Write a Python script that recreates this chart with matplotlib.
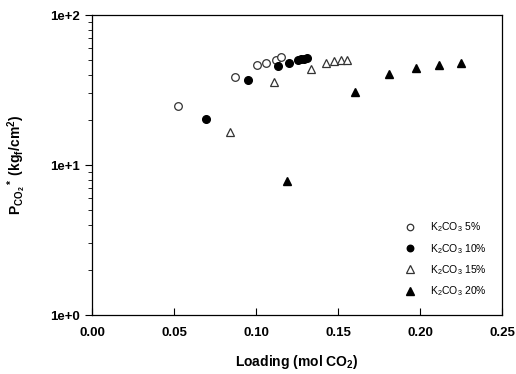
import matplotlib
matplotlib.use("Agg")
import matplotlib.pyplot as plt
from matplotlib.ticker import FixedLocator, LogLocator, NullFormatter

plt.rcParams['font.family'] = ['Liberation Sans', 'DejaVu Sans']
plt.rcParams['mathtext.fontset'] = 'custom'
plt.rcParams['mathtext.rm'] = 'Liberation Sans'
plt.rcParams['mathtext.it'] = 'Liberation Sans:italic'
plt.rcParams['mathtext.bf'] = 'Liberation Sans:bold'

# Data
load_5 = [0.0523, 0.0874, 0.1006, 0.1063, 0.1120, 0.1151]
p_5 = [24.7, 38.4, 46.4, 48.1, 49.9, 52.5]

load_10 = [0.0695, 0.0953, 0.1137, 0.1204, 0.1256, 0.1274, 0.1293, 0.1311]
p_10 = [20.2, 36.9, 45.5, 48.1, 50.5, 50.9, 50.9, 51.3]

load_15 = [0.0843, 0.1110, 0.1334, 0.1427, 0.1476, 0.1516, 0.1556]
p_15 = [16.6, 35.8, 43.5, 47.7, 49.1, 50.1, 50.5]

load_20 = [0.1187, 0.1604, 0.1811, 0.1976, 0.2117, 0.2251]
p_20 = [7.8, 30.7, 40.6, 44.5, 46.2, 47.5]

labels = ['K$_2$CO$_3$ 5%', 'K$_2$CO$_3$ 10%', 'K$_2$CO$_3$ 15%', 'K$_2$CO$_3$ 20%']
x_ticks = [0.00, 0.05, 0.10, 0.15, 0.20, 0.25]
x_ticklabels = ['0.00', '0.05', '0.10', '0.15', '0.20', '0.25']
y_ticks = [1, 10, 100]
y_ticklabels = ['1e+0', '1e+1', '1e+2']

fig = plt.figure(figsize=(5.16, 3.74), dpi=100)
ax = fig.add_axes([92/516, 1-315/374, 410/516, 300/374])

ms = 5.5
ax.plot(load_5, p_5, 'o', ms=ms, mfc='white', mec='#333333', mew=0.9, ls='none', label=labels[0])
ax.plot(load_10, p_10, 'o', ms=ms, mfc='black', mec='black', ls='none', label=labels[1])
ax.plot(load_15, p_15, '^', ms=ms+0.5, mfc='white', mec='#333333', mew=0.9, ls='none', label=labels[2])
ax.plot(load_20, p_20, '^', ms=ms+0.5, mfc='black', mec='black', ls='none', label=labels[3])

ax.set_yscale('log')
ax.set_xlim(0, 0.25)
ax.set_ylim(1, 100)
ax.set_xticks(x_ticks)
ax.set_xticklabels(x_ticklabels, fontsize=9.5, fontweight='bold')
ax.yaxis.set_major_locator(FixedLocator(y_ticks))
ax.set_yticklabels(y_ticklabels, fontsize=9.5, fontweight='bold')
ax.yaxis.set_minor_locator(LogLocator(base=10, subs=range(2, 10)))
ax.yaxis.set_minor_formatter(NullFormatter())

ax.tick_params(axis='x', direction='in', length=5, width=0.8, pad=9)
ax.tick_params(axis='y', which='major', direction='out', length=5, width=0.8)
ax.tick_params(axis='y', which='minor', direction='out', length=3, width=0.6)

for s in ax.spines.values():
    s.set_linewidth(0.9)

ax.set_xlabel(r'Loading (mol CO$_\mathbf{2}$)', fontsize=10, fontweight='bold', labelpad=10)
ax.set_ylabel(r'$\mathbf{P_{CO_2}}$$\mathbf{^*}$ (kg$_\mathbf{f}$/cm$^\mathbf{2}$)', fontsize=10, fontweight='bold', labelpad=16)

leg = ax.legend(loc='lower right', bbox_to_anchor=(0.985, 0.025), frameon=False, fontsize=7.5,
                handletextpad=0.9, labelspacing=0.72, borderaxespad=0.5, markerscale=0.85)

fig.savefig('out.png', dpi=100)
